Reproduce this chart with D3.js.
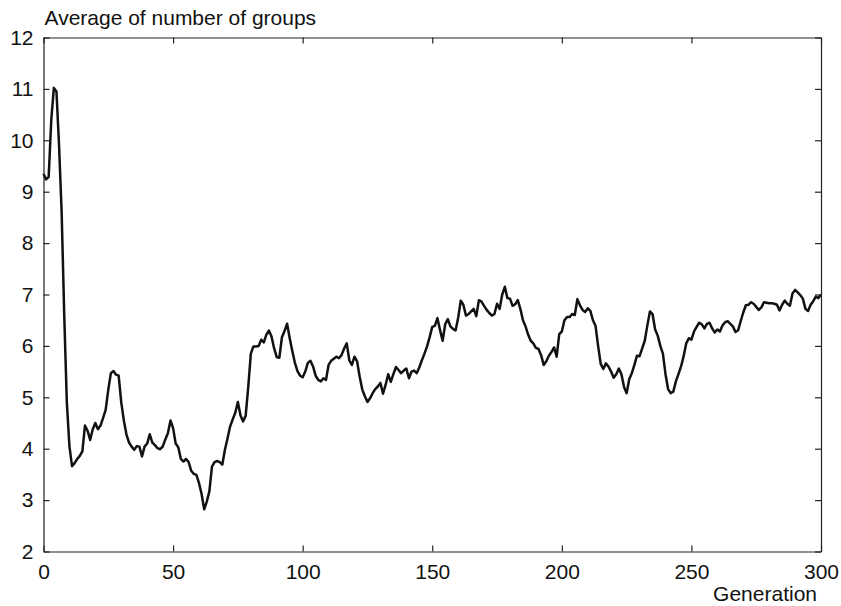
<!DOCTYPE html>
<html>
<head>
<meta charset="utf-8">
<script src="https://cdn.jsdelivr.net/npm/d3@7"></script>
<style>
  html, body { margin: 0; padding: 0; background: #fff; }
  svg { display: block; }
  text { font-family: "Liberation Sans", Arial, Helvetica, sans-serif; fill: #111; }
</style>
</head>
<body>
<svg id="chart" width="841" height="606"></svg>
<script>
// ---- data ----
const yAxisTitle = "Average of number of groups";
const xAxisTitle = "Generation";
const xTicks = [0, 50, 100, 150, 200, 250, 300];
const yTicks = [2, 3, 4, 5, 6, 7, 8, 9, 10, 11, 12];
// average number of groups, one value per generation 0..300
const avgGroups = [
  9.35, 9.24, 9.29, 10.4, 11.02, 10.95, 9.9, 8.6, 6.6, 4.9,
  4.05, 3.66, 3.72, 3.80, 3.86, 3.95, 4.45, 4.35, 4.17, 4.38,
  4.50, 4.38, 4.45, 4.60, 4.76, 5.15, 5.47, 5.51, 5.44, 5.42,
  4.90, 4.55, 4.28, 4.12, 4.04, 3.98, 4.05, 4.04, 3.85, 4.04,
  4.10, 4.28, 4.12, 4.07, 4.01, 3.99, 4.04, 4.18, 4.30, 4.55,
  4.40, 4.10, 4.03, 3.80, 3.75, 3.80, 3.74, 3.57, 3.51, 3.49,
  3.33, 3.12, 2.82, 2.97, 3.17, 3.65, 3.74, 3.76, 3.74, 3.69,
  3.98, 4.20, 4.43, 4.57, 4.70, 4.91, 4.65, 4.53, 4.64, 5.20,
  5.85, 5.99, 5.99, 6.00, 6.12, 6.07, 6.22, 6.30, 6.18, 5.95,
  5.78, 5.77, 6.17, 6.29, 6.43, 6.15, 5.90, 5.67, 5.51, 5.42,
  5.39, 5.50, 5.67, 5.71, 5.60, 5.42, 5.34, 5.31, 5.37, 5.34,
  5.63, 5.71, 5.75, 5.79, 5.76, 5.82, 5.95, 6.05, 5.72, 5.63,
  5.79, 5.70, 5.40, 5.15, 5.02, 4.91, 4.98, 5.08, 5.16, 5.21,
  5.28, 5.07, 5.24, 5.45, 5.30, 5.45, 5.59, 5.53, 5.47, 5.52,
  5.56, 5.37, 5.50, 5.52, 5.47, 5.58, 5.72, 5.85, 5.99, 6.17,
  6.37, 6.39, 6.54, 6.31, 6.10, 6.42, 6.52, 6.38, 6.33, 6.30,
  6.55, 6.88, 6.80, 6.59, 6.62, 6.67, 6.72, 6.58, 6.89, 6.86,
  6.78, 6.70, 6.64, 6.59, 6.62, 6.82, 6.72, 7.00, 7.15, 6.93,
  6.92, 6.78, 6.81, 6.89, 6.72, 6.50, 6.38, 6.22, 6.10, 6.05,
  5.96, 5.94, 5.82, 5.63, 5.70, 5.81, 5.88, 5.97, 5.79, 6.23,
  6.28, 6.50, 6.56, 6.56, 6.62, 6.60, 6.91, 6.79, 6.70, 6.66,
  6.73, 6.68, 6.50, 6.39, 6.00, 5.65, 5.55, 5.66, 5.60, 5.50,
  5.38, 5.45, 5.56, 5.45, 5.20, 5.08, 5.35, 5.47, 5.63, 5.81,
  5.80, 5.95, 6.10, 6.40, 6.67, 6.62, 6.32, 6.20, 6.00, 5.85,
  5.45, 5.16, 5.08, 5.11, 5.31, 5.45, 5.60, 5.80, 6.05, 6.15,
  6.12, 6.28, 6.37, 6.45, 6.42, 6.34, 6.43, 6.45, 6.34, 6.26,
  6.32, 6.28, 6.40, 6.46, 6.48, 6.43, 6.38, 6.27, 6.30, 6.48,
  6.65, 6.79, 6.80, 6.85, 6.82, 6.76, 6.70, 6.75, 6.85, 6.84,
  6.83, 6.83, 6.82, 6.80, 6.69, 6.80, 6.88, 6.82, 6.78, 7.02,
  7.09, 7.04, 6.99, 6.92, 6.72, 6.68, 6.80, 6.87, 6.96, 6.93,
  7.00
];

// ---- layout ----
const margin = { left: 43.5, right: 841 - 821, top: 37.5, bottom: 606 - 551.5 };
const W = 841, H = 606;
const svg = d3.select("#chart");

const x = d3.scaleLinear().domain([0, 300]).range([margin.left, W - margin.right]);
const y = d3.scaleLinear().domain([2, 12]).range([H - margin.bottom, margin.top]);

const axisColor = "#222";
const fontSize = 21;
const tickLen = 6;

// line
const line = d3.line()
  .x((d, i) => x(i))
  .y(d => y(d));

svg.append("path")
  .datum(avgGroups)
  .attr("fill", "none")
  .attr("stroke", "#111")
  .attr("stroke-width", 2.5)
  .attr("stroke-linejoin", "round")
  .attr("d", line);

// axes (inward ticks, box)
function styleAxis(g) {
  g.selectAll(".domain").attr("stroke", axisColor).attr("stroke-width", 1.2);
  g.selectAll(".tick line").attr("stroke", axisColor).attr("stroke-width", 1.2);
  g.selectAll(".tick text").attr("font-size", fontSize)
    .attr("font-family", "'Liberation Sans', Arial, Helvetica, sans-serif")
    .attr("fill", "#111");
}

const xBottom = svg.append("g")
  .attr("transform", `translate(0,${y(2)})`)
  .call(d3.axisBottom(x).tickValues(xTicks).tickSizeInner(-tickLen).tickSizeOuter(0).tickPadding(tickLen + 7));
styleAxis(xBottom);

const xTop = svg.append("g")
  .attr("transform", `translate(0,${y(12)})`)
  .call(d3.axisTop(x).tickValues(xTicks).tickSizeInner(-tickLen).tickSizeOuter(0).tickFormat(""));
styleAxis(xTop);

const yLeft = svg.append("g")
  .attr("transform", `translate(${x(0)},0)`)
  .call(d3.axisLeft(y).tickValues(yTicks).tickSizeInner(-tickLen).tickSizeOuter(0).tickPadding(tickLen + 4));
styleAxis(yLeft);

const yRight = svg.append("g")
  .attr("transform", `translate(${x(300)},0)`)
  .call(d3.axisRight(y).tickValues(yTicks).tickSizeInner(-tickLen).tickSizeOuter(0).tickFormat(""));
styleAxis(yRight);

// titles
svg.append("text")
  .attr("x", x(0) + 1)
  .attr("y", 25)
  .attr("font-size", fontSize)
  .text(yAxisTitle);

svg.append("text")
  .attr("x", x(300) - 4)
  .attr("y", 601)
  .attr("text-anchor", "end")
  .attr("font-size", fontSize)
  .text(xAxisTitle);
</script>
</body>
</html>
